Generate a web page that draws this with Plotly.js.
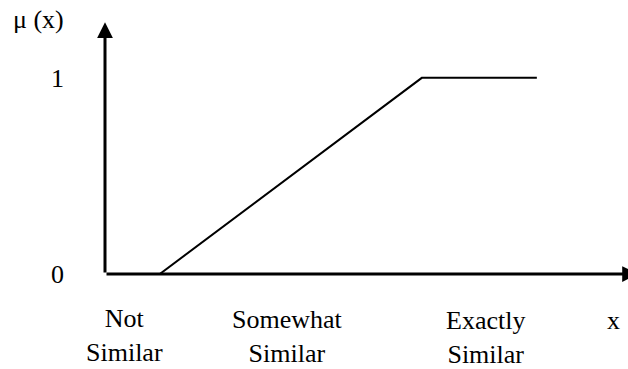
<!DOCTYPE html>
<html>
<head>
<meta charset="utf-8">
<script src="https://cdn.plot.ly/plotly-3.0.1.min.js"></script>
<style>
  html, body { margin: 0; padding: 0; background: #fff; }
  #grafico { width: 628px; height: 369px; }
</style>
</head>
<body>
<div id="grafico"></div>
<script>
// membership function mu(x)
const puntos_x = [1.1, 6.36, 8.67];
const puntos_mu = [0, 1, 1];

// categories along x
const categorias = ['Not<br>Similar', 'Somewhat<br>Similar', 'Exactly<br>Similar'];
const pos_categorias = [0.4, 3.66, 7.63];

// y ticks
const valores_y = [0, 1];
const etiquetas_y = ['0', '1'];

// axis extents (arrow tips)
const x_max = 10.7;
const y_max = 1.284;

const fuente = { family: 'Liberation Serif, Times New Roman, serif', size: 26, color: '#000' };

// desplazamiento vertical de cada etiqueta (px)
const desplaz_etiquetas = [-28, -29, -30];

const traceMu = {
    x: puntos_x,
    y: puntos_mu,
    mode: 'lines',
    line: { color: '#000', width: 2 },
    hoverinfo: 'skip',
    showlegend: false,
    cliponaxis: false,
};

// flechas de los ejes
const flecha = (x, y) => ({
    x: x, y: y, xref: 'x', yref: 'y',
    ax: 0, ay: 0, axref: 'x', ayref: 'y',
    text: '', showarrow: true,
    arrowhead: 2, arrowwidth: 3, arrowsize: 1.05, arrowcolor: '#000',
});

const etiquetas = categorias.map((c, i) => ({
    text: c, x: pos_categorias[i], y: 0, xref: 'x', yref: 'y',
    showarrow: false, font: fuente, xanchor: 'center', yanchor: 'top',
    yshift: desplaz_etiquetas[i],
}));

const layout = {
    width: 628,
    height: 369,
    margin: { l: 105, r: 0, t: 19, b: 95 },
    paper_bgcolor: '#fff',
    plot_bgcolor: '#fff',
    font: fuente,
    showlegend: false,
    xaxis: {
        range: [0, 10.5],
        showgrid: false, zeroline: false, showline: false,
        ticks: '', showticklabels: false,
    },
    yaxis: {
        range: [0, 1.3],
        showgrid: false, zeroline: false, showline: false,
        ticks: '',
        tickvals: valores_y,
        ticktext: etiquetas_y,
        tickfont: fuente,
        ticklabelstandoff: 40,
    },
    annotations: [
        flecha(0, y_max),
        flecha(x_max, 0),
        ...etiquetas,
        { text: 'μ (x)', xref: 'paper', yref: 'paper', x: -0.127, y: 0.998,
          showarrow: false, font: fuente, xanchor: 'center', yanchor: 'middle' },
        { text: 'x', xref: 'paper', yref: 'paper', x: 0.973, y: -0.184,
          showarrow: false, font: fuente, xanchor: 'center', yanchor: 'middle' },
    ],
};

Plotly.newPlot('grafico', [traceMu], layout, { displayModeBar: false, staticPlot: true });
</script>
</body>
</html>
